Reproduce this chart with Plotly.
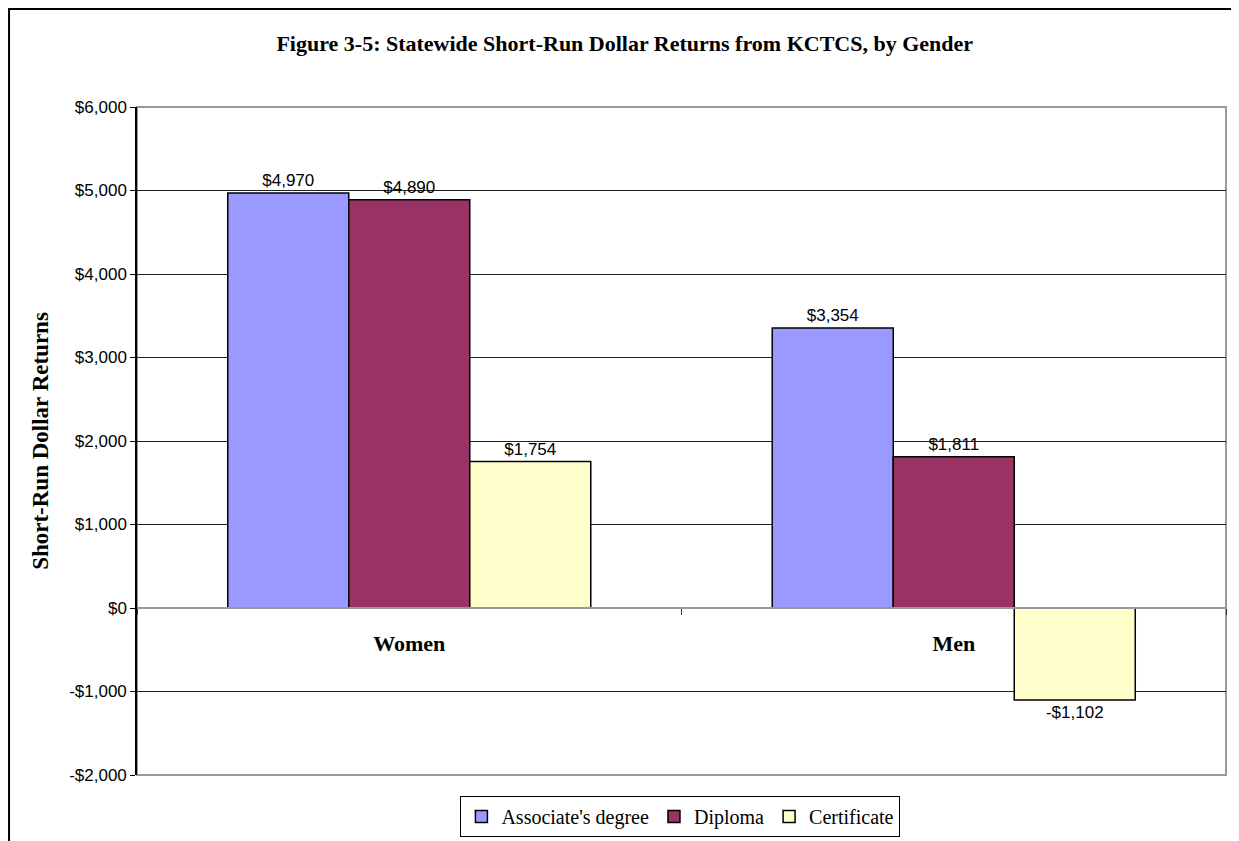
import plotly.graph_objects as go

# data
groups = ["Women", "Men"]
series_names = ["Associate's degree", "Diploma", "Certificate"]
associate = [4970, 3354]
diploma = [4890, 1811]
certificate = [1754, -1102]
colors = ["#9999FF", "#993366", "#FFFFCC"]
y_ticks = [-2000, -1000, 0, 1000, 2000, 3000, 4000, 5000, 6000]


def money(v):
    return f"-${abs(v):,}" if v < 0 else f"${v:,}"


fig = go.Figure()
for name, vals, col in zip(series_names, [associate, diploma, certificate], colors):
    fig.add_trace(go.Bar(
        name=name,
        x=groups,
        y=vals,
        marker=dict(color=col, line=dict(color="black", width=1.5)),
        text=[money(v) for v in vals],
        textposition="outside",
        textfont=dict(family="Liberation Sans, Arial", size=17, color="black"),
        cliponaxis=False,
    ))

# plot area border (gray) and outer chart border (black)
fig.add_shape(type="rect", xref="paper", yref="paper", x0=0, y0=0, x1=1, y1=1,
              line=dict(color="#999999", width=2), layer="below")
fig.add_shape(type="rect", xref="paper", yref="paper", x0=-0.1175, y0=-0.3, x1=1.2, y1=1.1467,
              line=dict(color="black", width=2), layer="below")

# page body adds an 8px margin, so the figure is 8px smaller than the window
fig.update_layout(
    width=1231,
    height=833,
    margin=dict(l=129, r=13, t=99, b=66, autoexpand=False),
    paper_bgcolor="white",
    plot_bgcolor="white",
    barmode="group",
    bargap=0.3333,
    bargroupgap=0,
    title=dict(
        text="<b>Figure 3-5: Statewide Short-Run Dollar Returns from KCTCS, by Gender</b>",
        font=dict(family="Liberation Serif, Times New Roman", size=22, color="black"),
        xref="container", x=0.501, xanchor="center",
        yref="container", y=0.958, yanchor="middle",
    ),
    legend=dict(
        orientation="h",
        x=0.499, xanchor="center",
        y=-0.062, yanchor="middle",
        font=dict(family="Liberation Serif, Times New Roman", size=20, color="black"),
        bordercolor="black", borderwidth=1,
        itemwidth=30,
        tracegroupgap=0,
    ),
    yaxis=dict(
        range=[-2000, 6000],
        tickvals=y_ticks,
        ticktext=[money(v) for v in y_ticks],
        tickfont=dict(family="Liberation Sans, Arial", size=17, color="black"),
        ticks="outside", ticklen=5, tickcolor="black",
        showline=True, linecolor="black", linewidth=1.5,
        showgrid=True, gridcolor="#222222", gridwidth=1,
        zeroline=False,
        title=dict(
            text="<b>Short-Run Dollar Returns</b>",
            font=dict(family="Liberation Serif, Times New Roman", size=23, color="black"),
            standoff=14,
        ),
    ),
    xaxis=dict(
        anchor="free",
        position=0.25,
        showline=True, linecolor="#999999", linewidth=2,
        ticks="outside", tickson="boundaries", ticklen=6, tickcolor="#333333",
        tickfont=dict(family="Liberation Serif, Times New Roman", size=22, color="black"),
        tickprefix="<b>", ticksuffix="</b>",
        ticklabelstandoff=16,
        showgrid=False,
    ),
)

fig.write_html("out.html")
